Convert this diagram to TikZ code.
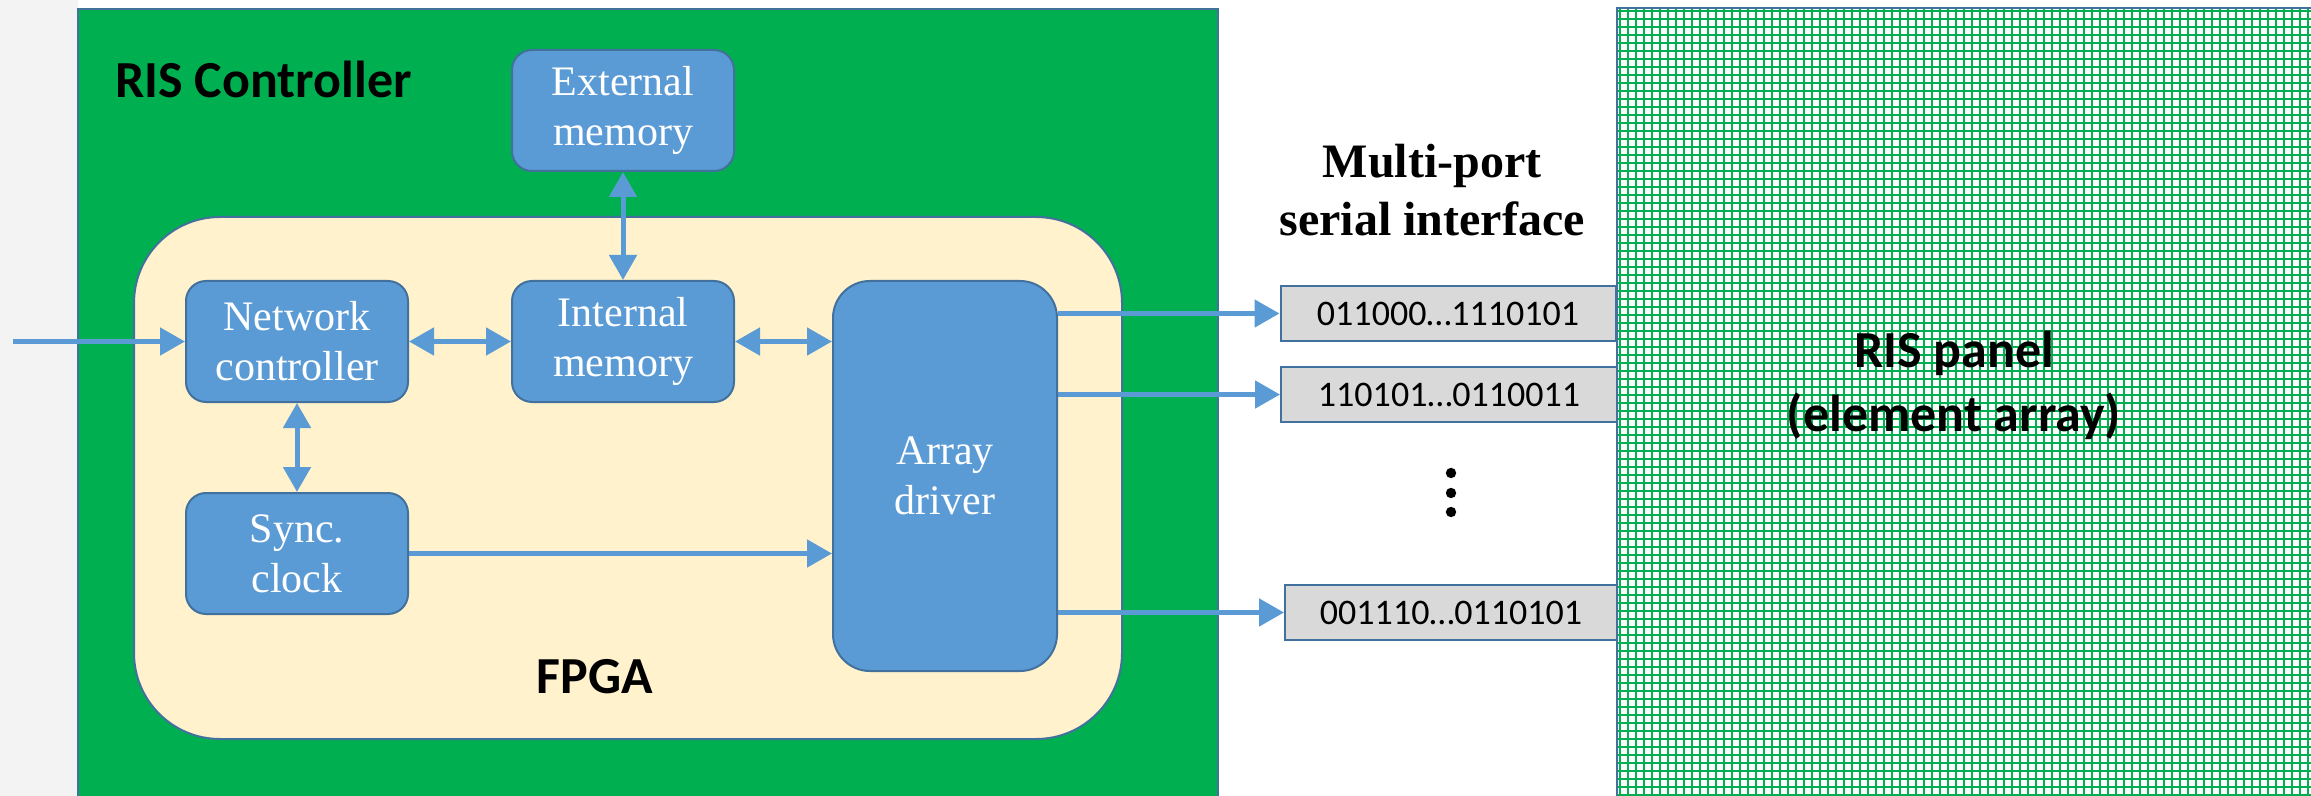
\documentclass[tikz,border=0pt]{standalone}
\usepackage{fontspec}
\setmainfont{Liberation Serif}
\newfontfamily\calibri{Carlito}
\usepackage{tikz}
\usetikzlibrary{arrows.meta, positioning}
\definecolor{CtrlGreen} {RGB}{0,  176, 80}
\definecolor{FpgaCream} {RGB}{255,242,204}
\definecolor{BlockBlue} {RGB}{91, 155,213}
\definecolor{EdgeBlue}  {RGB}{65, 113,156}
\definecolor{BitsGray}  {RGB}{217,217,217}
\definecolor{SideGray}  {RGB}{243,243,243}

\begin{document}
\begin{tikzpicture}[x=0.5pt,y=-0.5pt,
    blk/.style={draw=EdgeBlue,line width=1pt,fill=BlockBlue,text=white,rounded corners=10pt,
      minimum width=111pt,minimum height=60.5pt,inner sep=0pt,align=center,
      font=\fontsize{21}{25}\selectfont},
    bits/.style={draw=EdgeBlue,line width=1pt,fill=BitsGray,minimum height=27.5pt,inner sep=0pt,
      font=\calibri\fontsize{18}{21}\selectfont},
    tag/.style={font=\calibri\bfseries\fontsize{26}{32}\selectfont,inner sep=0pt},
    link/.style={draw=BlockBlue,line width=2.5pt,-{Triangle[length=12.5pt,width=13.5pt]}},
    dlink/.style={link,{Triangle[length=12.5pt,width=13.5pt]}-{Triangle[length=12.5pt,width=13.5pt]}}]
  \useasboundingbox (0,0) rectangle (2311,796);
  \fill[SideGray] (0,0) rectangle (78,796);

  % controller board and FPGA
  \draw[EdgeBlue,line width=0.8pt,fill=CtrlGreen] (78,9) rectangle (1218,830);
  \node[draw=EdgeBlue,line width=1pt,fill=FpgaCream,rounded corners=43pt,minimum width=494pt,minimum height=261pt] (fpga) at (628,478) {};
  \node[tag,anchor=base west] (ctrl) at (115,98) {RIS Controller};
  \node[tag,anchor=base] (fpgalbl) at (595,693) {FPGA};

  % blocks
  \node[blk] (net) at (297,341.5) {Network\\controller};
  \node[blk,right=51pt of net] (int) {Internal\\memory};
  \node[blk,above=54pt of int] (ext) {External\\memory};
  \node[blk,below=44.5pt of net] (sync) {Sync.\\clock};
  \node[blk,rounded corners=18.5pt,minimum width=112pt,minimum height=195pt] (drv) at (945,476) {Array\\driver};

  % serial ports
  \node[align=center,font=\bfseries\fontsize{24}{29}\selectfont,inner sep=0pt] (ports) at (1432,190) {Multi-port\\serial interface};
  \node[bits,minimum width=167.5pt] (bitA) at (1448,313.5) {011000…1110101};
  \node[bits,minimum width=168pt] (bitB) at (1449,394.5) {110101…0110011};
  \node[bits,minimum width=166pt] (bitC) at (1451,612.5) {001110…0110101};
  \foreach \dy in {473,493,512}
    \fill (1451,\dy) circle (2.6pt);

  % RIS panel
  \fill[white] (1617,8) rectangle (2330,830);
  \foreach \gx in {1620,1628,...,2316}
    \draw[CtrlGreen,line width=1.15pt] (\gx,8) -- (\gx,830);
  \foreach \gy in {11,19,...,803}
    \draw[CtrlGreen,line width=1.15pt] (1617,\gy) -- (2330,\gy);
  \draw[EdgeBlue,line width=1.2pt] (1617,830) |- (2330,8);
  \node[tag,align=center] (panel) at (1954,385) {RIS panel\\(element array)};

  % connections
  \coordinate (in) at (13,341.5);
  \draw[link] (in) -- (net);
  \draw[dlink] (net) -- (int);
  \draw[dlink] (ext) -- (int);
  \draw[dlink] (net) -- (sync);
  \draw[dlink] (int.east) -- (int.east -| drv.west);
  \draw[link] (sync.east) -- (sync.east -| drv.west);
  \draw[link] (bitA.west -| drv.east) -- (bitA.west);
  \draw[link] (bitB.west -| drv.east) -- (bitB.west);
  \draw[link] (bitC.west -| drv.east) -- (bitC.west);
\end{tikzpicture}
\end{document}
